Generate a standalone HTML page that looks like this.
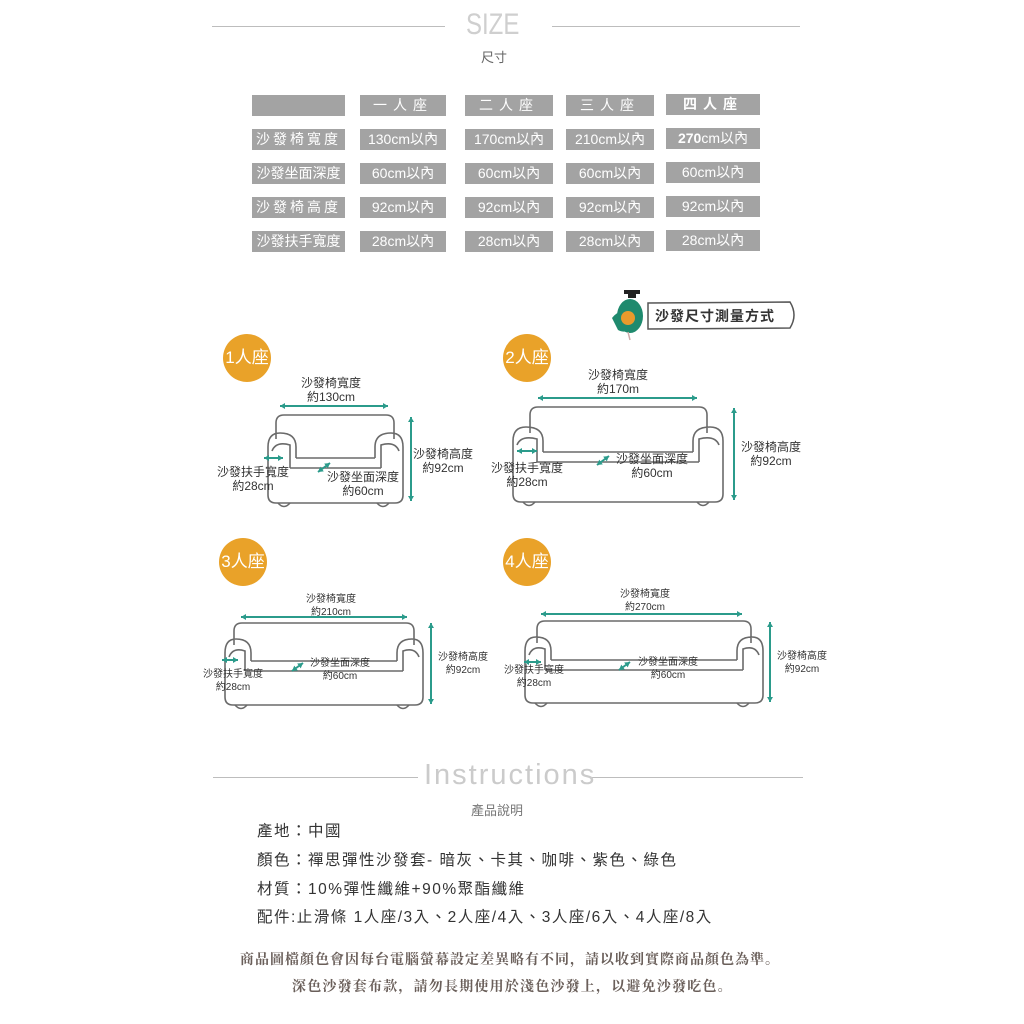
<!DOCTYPE html>
<html><head><meta charset="utf-8">
<style>
html,body{margin:0;padding:0;background:#fff;}
#c{position:relative;width:1024px;height:1024px;overflow:hidden;font-family:"Liberation Sans","Noto Sans CJK TC",sans-serif;}
.t{position:absolute;white-space:nowrap;}
.cell{position:absolute;background:#a3a3a3;color:#fff;font-size:14px;text-align:center;line-height:21px;height:21px;}
.hl{position:absolute;height:1px;background:#bdbdbd;}
.lab{position:absolute;white-space:nowrap;font-size:12px;color:#333;text-align:center;transform:translateX(-50%);line-height:14px;}
.circ{position:absolute;width:48px;height:48px;border-radius:50%;background:#e9a229;color:#fff;font-size:17px;line-height:48px;text-align:center;}
.it{position:absolute;white-space:nowrap;font-size:15.5px;color:#333;letter-spacing:1.5px;left:257px;}
</style></head><body><div id="c">
<div class="hl" style="left:212px;top:26px;width:233px"></div>
<div class="hl" style="left:552px;top:26px;width:248px"></div>
<div class="t" style="left:466px;top:8px;font-size:30px;color:#cfcfcf;font-weight:100;transform:scaleX(0.8);transform-origin:left top">SIZE</div>
<div class="t" style="left:481px;top:47px;font-size:13px;color:#666">尺寸</div>

<div class="cell" style="left:252px;top:95px;width:93px"></div>
<div class="cell" style="left:360px;top:95px;width:86px;letter-spacing:6px">一人座</div>
<div class="cell" style="left:465px;top:95px;width:88px;letter-spacing:6px">二人座</div>
<div class="cell" style="left:566px;top:95px;width:88px;letter-spacing:6px">三人座</div>
<div class="cell" style="left:666px;top:94px;width:94px;letter-spacing:6px;font-weight:bold">四人座</div>

<div class="cell" style="left:252px;top:129px;width:93px;letter-spacing:3px">沙發椅寬度</div>
<div class="cell" style="left:360px;top:129px;width:86px">130cm以內</div>
<div class="cell" style="left:465px;top:129px;width:88px">170cm以內</div>
<div class="cell" style="left:566px;top:129px;width:88px">210cm以內</div>
<div class="cell" style="left:666px;top:128px;width:94px"><b>270</b>cm以內</div>

<div class="cell" style="left:252px;top:163px;width:93px">沙發坐面深度</div>
<div class="cell" style="left:360px;top:163px;width:86px">60cm以內</div>
<div class="cell" style="left:465px;top:163px;width:88px">60cm以內</div>
<div class="cell" style="left:566px;top:163px;width:88px">60cm以內</div>
<div class="cell" style="left:666px;top:162px;width:94px">60cm以內</div>

<div class="cell" style="left:252px;top:197px;width:93px;letter-spacing:3px">沙發椅高度</div>
<div class="cell" style="left:360px;top:197px;width:86px">92cm以內</div>
<div class="cell" style="left:465px;top:197px;width:88px">92cm以內</div>
<div class="cell" style="left:566px;top:197px;width:88px">92cm以內</div>
<div class="cell" style="left:666px;top:196px;width:94px">92cm以內</div>

<div class="cell" style="left:252px;top:231px;width:93px">沙發扶手寬度</div>
<div class="cell" style="left:360px;top:231px;width:86px">28cm以內</div>
<div class="cell" style="left:465px;top:231px;width:88px">28cm以內</div>
<div class="cell" style="left:566px;top:231px;width:88px">28cm以內</div>
<div class="cell" style="left:666px;top:230px;width:94px">28cm以內</div>

<svg id="sv" width="1024" height="1024" style="position:absolute;left:0;top:0">
<path d="M648,303 L790,302 Q798,315 790,328 L648,329 Z" fill="#fff" stroke="#555" stroke-width="1.5"/>
<ellipse cx="630" cy="316" rx="13" ry="17" fill="#1f8a6e"/>
<path d="M612,318 Q622,305 632,320 Q630,336 618,330 Z" fill="#1f8a6e"/>
<circle cx="628" cy="318" r="7" fill="#e99a2c"/>
<rect x="624" y="290" width="16" height="4" fill="#222"/><rect x="628" y="293" width="8" height="5" fill="#222"/>
<line x1="628" y1="332" x2="630" y2="340" stroke="#caa" stroke-width="1.5"/>
</svg>
<div class="t" style="left:655px;top:306px;font-size:14px;font-weight:bold;color:#333;letter-spacing:1px">沙發尺寸測量方式</div>

<div class="circ" style="left:223px;top:334px">1人座</div>
<div class="circ" style="left:503px;top:334px">2人座</div>
<div class="circ" style="left:219px;top:538px">3人座</div>
<div class="circ" style="left:503px;top:538px">4人座</div>

<div class="lab" style="left:331px;top:376px">沙發椅寬度<br>約130cm</div>
<div class="lab" style="left:443px;top:447px">沙發椅高度<br>約92cm</div>
<div class="lab" style="left:253px;top:465px">沙發扶手寬度<br>約28cm</div>
<div class="lab" style="left:363px;top:470px">沙發坐面深度<br>約60cm</div>

<div class="lab" style="left:618px;top:368px">沙發椅寬度<br>約170m</div>
<div class="lab" style="left:771px;top:440px">沙發椅高度<br>約92cm</div>
<div class="lab" style="left:527px;top:461px">沙發扶手寬度<br>約28cm</div>
<div class="lab" style="left:652px;top:452px">沙發坐面深度<br>約60cm</div>

<div class="lab" style="left:331px;top:593px;font-size:10px;line-height:13px">沙發椅寬度<br>約210cm</div>
<div class="lab" style="left:463px;top:651px;font-size:10px;line-height:13px">沙發椅高度<br>約92cm</div>
<div class="lab" style="left:233px;top:668px;font-size:10px;line-height:13px">沙發扶手寬度<br>約28cm</div>
<div class="lab" style="left:340px;top:657px;font-size:10px;line-height:13px">沙發坐面深度<br>約60cm</div>

<div class="lab" style="left:645px;top:588px;font-size:10px;line-height:13px">沙發椅寬度<br>約270cm</div>
<div class="lab" style="left:802px;top:650px;font-size:10px;line-height:13px">沙發椅高度<br>約92cm</div>
<div class="lab" style="left:534px;top:664px;font-size:10px;line-height:13px">沙發扶手寬度<br>約28cm</div>
<div class="lab" style="left:668px;top:656px;font-size:10px;line-height:13px">沙發坐面深度<br>約60cm</div>

<div class="hl" style="left:213px;top:777px;width:205px"></div>
<div class="hl" style="left:590px;top:777px;width:213px"></div>
<div class="t" style="left:424px;top:759px;font-size:29px;color:#cbcbcb;font-weight:100;letter-spacing:2px">Instructions</div>
<div class="t" style="left:471px;top:800px;font-size:13px;color:#777">產品說明</div>
<div class="it" style="top:819px">產地：中國</div>
<div class="it" style="top:848px">顏色：禪思彈性沙發套- 暗灰、卡其、咖啡、紫色、綠色</div>
<div class="it" style="top:877px">材質：10%彈性纖維+90%聚酯纖維</div>
<div class="it" style="top:905px">配件:止滑條 1人座/3入、2人座/4入、3人座/6入、4人座/8入</div>
<div class="t" style="left:240px;top:949px;font-size:14px;letter-spacing:1px;color:#6a5f5a;font-weight:bold;font-family:'Liberation Serif','Noto Serif CJK SC',serif">商品圖檔顏色會因每台電腦螢幕設定差異略有不同，請以收到實際商品顏色為準。</div>
<div class="t" style="left:292px;top:976px;font-size:14px;letter-spacing:1.2px;color:#6a5f5a;font-weight:bold;font-family:'Liberation Serif','Noto Serif CJK SC',serif">深色沙發套布款，請勿長期使用於淺色沙發上，以避免沙發吃色。</div>
</div>
<script>
var sv=document.getElementById('sv');var ns='http://www.w3.org/2000/svg';
function el(t,a){var e=document.createElementNS(ns,t);for(var k in a)e.setAttribute(k,a[k]);sv.appendChild(e);return e;}
var G='#6a6a6a',TL='#2b9b8b';
function arrow(x1,y1,x2,y2){el('line',{x1:x1,y1:y1,x2:x2,y2:y2,stroke:TL,'stroke-width':2});
 var a=Math.atan2(y2-y1,x2-x1),s=5;
 [[x2,y2,a],[x1,y1,a+Math.PI]].forEach(function(p){var x=p[0],y=p[1],b=p[2];
 el('path',{d:'M'+x+','+y+' L'+(x-s*Math.cos(b)+3*Math.sin(b))+','+(y-s*Math.sin(b)-3*Math.cos(b))+' L'+(x-s*Math.cos(b)-3*Math.sin(b))+','+(y-s*Math.sin(b)+3*Math.cos(b))+'Z',fill:TL});});}
function sofa(L,R,bl,br,T,A,S,B,aw){
 var d='';
 d+='M'+(bl)+','+(A+6)+' V'+(T+8)+' Q'+bl+','+T+' '+(bl+8)+','+T+' H'+(br-8)+' Q'+br+','+T+' '+br+','+(T+8)+' V'+(A+6);
 d+=' M'+L+','+(B-8)+' V'+(A+14)+' Q'+L+','+A+' '+(L+aw/2)+','+A+' Q'+(L+aw+4)+','+A+' '+(L+aw+4)+','+(A+14)+' V'+S;
 d+=' M'+(L+4)+','+(A+18)+' Q'+(L+8)+','+(A+8)+' '+(L+aw-2)+','+(A+12)+' V'+(S+10);
 d+=' M'+R+','+(B-8)+' V'+(A+14)+' Q'+R+','+A+' '+(R-aw/2)+','+A+' Q'+(R-aw-4)+','+A+' '+(R-aw-4)+','+(A+14)+' V'+S;
 d+=' M'+(R-4)+','+(A+18)+' Q'+(R-8)+','+(A+8)+' '+(R-aw+2)+','+(A+12)+' V'+(S+10);
 d+=' M'+(L+aw+4)+','+S+' H'+(R-aw-4);
 d+=' M'+(L+aw-2)+','+(S+10)+' H'+(R-aw+2);
 d+=' M'+L+','+(B-8)+' Q'+L+','+B+' '+(L+8)+','+B+' H'+(R-8)+' Q'+R+','+B+' '+R+','+(B-8);
 el('path',{d:d,fill:'none',stroke:G,'stroke-width':1.6});
 el('path',{d:'M'+(L+10)+','+B+' Q'+(L+16)+','+(B+7)+' '+(L+22)+','+B,fill:'none',stroke:G,'stroke-width':1.5});
 el('path',{d:'M'+(R-26)+','+B+' Q'+(R-20)+','+(B+7)+' '+(R-14)+','+B,fill:'none',stroke:G,'stroke-width':1.5});
}
sofa(268,403,276,394,415,433,458,503,24); arrow(280,406,388,406); arrow(411,417,411,501); arrow(264,458,283,458); arrow(318,472,330,463);
sofa(513,723,530,707,407,427,452,502,26); arrow(538,398,697,398); arrow(734,408,734,500); arrow(517,451,537,451); arrow(597,465,609,456);
sofa(225,423,234,414,623,639,661,705,22); arrow(241,617,407,617); arrow(431,623,431,704); arrow(222,660,238,660); arrow(292,671,303,663);
sofa(525,763,537,751,621,637,660,703,22); arrow(541,614,742,614); arrow(770,622,770,702); arrow(524,662,541,662); arrow(619,670,630,662);
</script>
</body></html>
